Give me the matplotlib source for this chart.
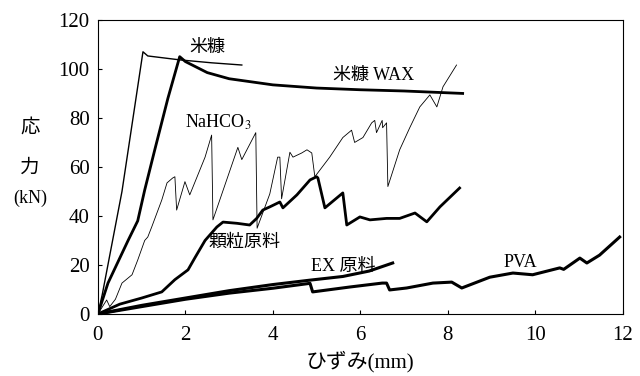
import matplotlib
matplotlib.use('Agg')
import matplotlib.pyplot as plt

plt.rcParams['font.family'] = ['Liberation Serif', 'Noto Sans CJK JP']
plt.rcParams['mathtext.fontset'] = 'stix'

# ── DATA ───────────────────────────────────────────────────────────────────
# 米糠 (rice bran)
nuka_x = [0, 0.1, 0.55, 1.03, 1.14, 1.87, 2.6, 3.29]
nuka_y = [0, 8, 50, 107, 105.3, 103.7, 102.5, 101.6]

# 米糠 WAX
wax_x = [0, 0.23, 0.69, 0.91, 1.07, 1.3, 1.6, 1.87, 2.0, 2.5, 3.0, 4.0, 5.0, 6.0, 7.0, 8.34]
wax_y = [0, 12.6, 30, 38, 50.6, 67, 88, 105, 103, 98.5, 96, 93.5, 92.2, 91.5, 91, 90]

# NaHCO3
na_x = [0, 0.2, 0.27, 0.4, 0.55, 0.78, 0.91, 1.07, 1.14, 1.23, 1.46, 1.58, 1.71, 1.76,
        1.8, 1.99, 2.1, 2.45, 2.6, 2.63, 3.2, 3.29, 3.61, 3.64, 3.93, 4.11, 4.16, 4.2,
        4.39, 4.46, 4.66, 4.78, 4.89, 4.96, 5.3, 5.6, 5.8, 5.87, 6.06, 6.26, 6.33, 6.37,
        6.5, 6.51, 6.6, 6.63, 6.9, 7.13, 7.36, 7.59, 7.75, 7.89, 8.2]
na_y = [0, 5.7, 3, 6, 12.6, 16, 22, 30, 31.4, 35.5, 46.5, 53.5, 55.5, 56,
        42.4, 54, 48.6, 64, 73, 38.4, 68, 63, 74, 35, 49, 64, 64, 47,
        66, 64, 65.7, 67, 65.7, 56, 64, 72, 75, 70, 72, 78, 79, 74,
        79, 76, 78, 52, 67, 76, 84.5, 89.4, 84.5, 92.7, 101.6]

# 顆粒原料 (granular)
gr_x = [0, 0.5, 1.0, 1.46, 1.76, 2.06, 2.22, 2.45, 2.72, 2.86, 3.18, 3.47, 3.63, 3.77,
        3.93, 4.16, 4.23, 4.55, 4.85, 5.0, 5.03, 5.19, 5.6, 5.69, 5.99, 6.22, 6.6, 6.9,
        7.25, 7.52, 7.82, 8.27]
gr_y = [0, 4, 6.5, 9, 14, 18, 23, 30, 35.5, 37.5, 37, 36.3, 39, 42.4,
        43.7, 45.7, 43.3, 48.6, 54.7, 56, 55.5, 43.3, 49.4, 36.3, 39.6, 38.4, 39, 39,
        41.2, 37.6, 43.7, 51.4]

# EX 原料
ex_x = [0, 1, 2, 3, 4, 4.85, 5.6, 6.2, 6.74]
ex_y = [0, 3.5, 6.5, 9.5, 12, 13.8, 15.3, 17.5, 20.8]

# PVA
pva_x = [0, 1, 2, 3, 4, 4.85, 4.91, 5.76, 6.5, 6.6, 6.67, 7.06, 7.66, 8.09, 8.32,
         8.96, 9.49, 9.94, 10.56, 10.65, 11.02, 11.18, 11.47, 11.93]
pva_y = [0, 3, 6, 8.5, 10.5, 12.5, 9, 11, 12.6, 12.6, 9.8, 10.6, 12.6, 13, 10.6,
         15, 16.7, 16, 18.8, 18.2, 22.8, 20.8, 24, 31.4]

x_ticks = [0, 2, 4, 6, 8, 10, 12]
y_ticks = [0, 20, 40, 60, 80, 100, 120]

# ── FIGURE ─────────────────────────────────────────────────────────────────
fig = plt.figure(figsize=(6.4, 3.76), dpi=100)
ax = fig.add_axes([0.153, 0.165, 0.82, 0.782])

ax.plot(nuka_x, nuka_y, color='black', linewidth=1.0)
ax.plot(wax_x, wax_y, color='black', linewidth=2.0)
ax.plot(na_x, na_y, color='black', linewidth=0.6)
ax.plot(gr_x, gr_y, color='black', linewidth=2.0)
ax.plot(ex_x, ex_y, color='black', linewidth=2.2)
ax.plot(pva_x, pva_y, color='black', linewidth=2.2)

# curve labels
ax.text(2.5, 108.6, "米糠", fontsize=13, ha='center', va='center')
ax.text(6.3, 97.5, "米糠 WAX", fontsize=13, ha='center', va='center')
ax.text(2.75, 78.4, "NaHCO$_3$", fontsize=13, ha='center', va='center')
ax.text(3.34, 29, "顆粒原料", fontsize=13, ha='center', va='center')
ax.text(5.6, 19.2, "EX 原料", fontsize=13, ha='center', va='center')
ax.text(9.65, 21.2, "PVA", fontsize=13, ha='center', va='center')

ax.set_xlim(0, 12)
ax.set_ylim(0, 120)
ax.set_xticks(x_ticks)
ax.set_yticks(y_ticks)
ax.tick_params(direction='in', length=3, labelsize=15, pad=6)
ax.tick_params(axis='x', pad=9)

ax.set_xlabel("ひずみ(mm)", fontsize=15, labelpad=4)
fig.text(0.047, 0.66, "応", fontsize=14, ha='center', va='center')
fig.text(0.047, 0.553, "力", fontsize=14, ha='center', va='center')
fig.text(0.047, 0.473, "(kN)", fontsize=13, ha='center', va='center')

plt.savefig("out.png", dpi=100)
plt.close()
